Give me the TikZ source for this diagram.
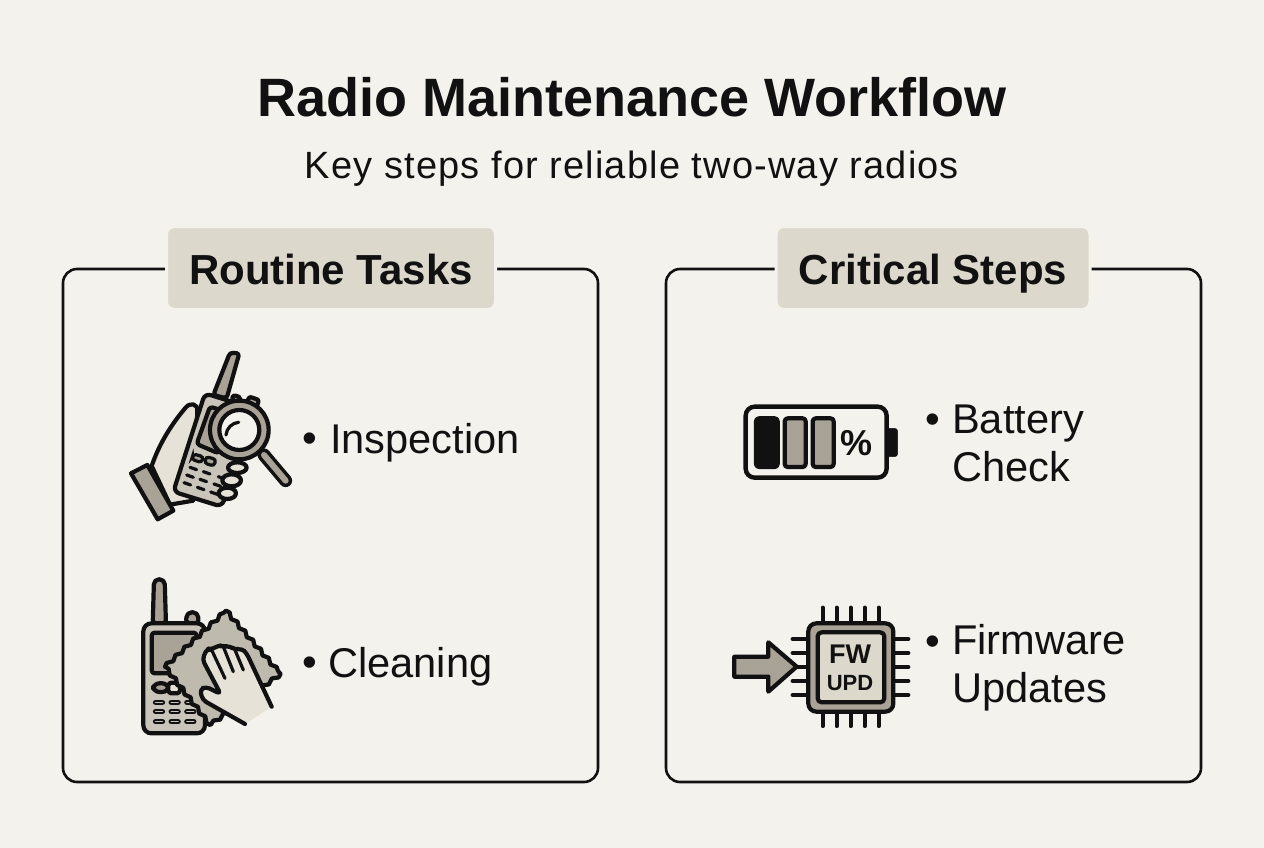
\documentclass[tikz,border=0pt]{standalone}
\usepackage{fontspec}
\usepackage{xcolor}
\setmainfont{Liberation Sans}
\usetikzlibrary{decorations.pathmorphing}
\definecolor{paper}{HTML}{F3F2EC}
\definecolor{ink}{HTML}{111111}
\definecolor{chipfill}{HTML}{DDD8CC}
\definecolor{midgray}{HTML}{A8A297}
\definecolor{lightgray}{HTML}{C9C5BA}
\definecolor{clothgray}{HTML}{BEBAAE}
\definecolor{skin}{HTML}{E6E2D8}
\tikzset{
  panel/.style={draw=ink,line width=2.6pt,rounded corners=14pt},
  tag/.style={fill=chipfill,draw=paper,line width=3pt,rounded corners=8pt,text=ink,
    font=\fontsize{42}{50}\selectfont\bfseries,minimum height=83pt,anchor=center,
    text height=36pt,text depth=4pt},
  itemtext/.style={text=ink,align=left,anchor=west,inner sep=0pt,
    font=\fontsize{41.6}{48}\selectfont},
  bullet/.style={text=ink,inner sep=0pt,font=\fontsize{42}{48}\selectfont},
  outline/.style={draw=ink,line width=4.2pt,line join=round,line cap=round},
  thin/.style={draw=ink,line width=3.2pt,line cap=round},
  cloth/.style={decorate,decoration={snake,amplitude=1.6pt,segment length=12pt}},
  icon/.style={x=0.3333pt,y=-0.3333pt}
}
\begin{document}
\begin{tikzpicture}[x=1pt,y=-1pt]
  \useasboundingbox (0,0) rectangle (1264,848);
  \fill[paper] (0,0) rectangle (1264,848);

  % Title
  \node[text=ink,font=\fontsize{54}{60}\selectfont\bfseries] (title) at (632,97) {Radio Maintenance Workflow};
  \node[text=ink,font=\fontsize{38}{44}\selectfont\addfontfeature{LetterSpace=3}] (subtitle) at (632,169) {Key steps for reliable two-way radios};

  % Panels
  \draw[panel] (63,269) rectangle (598,782);
  \draw[panel] (666,269) rectangle (1201,782);
  \node[tag,minimum width=329pt] (routine) at (331,268) {Routine Tasks};
  \node[tag,minimum width=314pt] (critical) at (933,268) {Critical Steps};

  % Labels
  \node[itemtext] (inspection) at (330,443) {Inspection};
  \node[bullet] (b1) at (310,443) {•};
  \node[itemtext] (cleaning) at (328,667) {Cleaning};
  \node[bullet] (b2) at (310,667) {•};
  \node[itemtext] (battery) at (952,443) {Battery\\Check};
  \node[bullet] (b3) at (933,424) {•};
  \node[itemtext] (firmware) at (952,668) {Firmware\\Updates};
  \node[bullet] (b4) at (933,646) {•};

  % Radio with magnifier
  \begin{scope}[shift={(120,340)},icon]
    \filldraw[outline,fill=midgray,rounded corners=3pt] (280,165) -- (330,38) -- (358,40) -- (320,175) -- cycle;
    \filldraw[outline,fill=midgray,rounded corners=2pt] (335,180) -- (340,165) -- (362,172) -- (358,190) -- cycle;
    \filldraw[outline,fill=midgray,rounded corners=2pt] (378,195) -- (388,170) -- (417,180) -- (408,208) -- cycle;
    \filldraw[outline,fill=skin] (95,378) .. controls (115,320) and (145,265) .. (195,205)
      .. controls (210,185) and (235,190) .. (232,215) -- (220,482) -- (150,494) -- cycle;
    \filldraw[outline,fill=lightgray,rounded corners=6pt] (255,160) -- (415,210) -- (305,500) -- (160,455) -- cycle;
    \filldraw[outline,fill=midgray,rounded corners=3pt] (270,200) -- (350,225) -- (295,340) -- (230,312) -- cycle;
    \filldraw[thin,fill=midgray,rounded corners=3pt] (220,342) -- (250,350) -- (245,368) -- (215,358) -- cycle;
    \filldraw[thin,fill=midgray,rounded corners=3pt] (258,350) -- (288,358) -- (282,378) -- (254,370) -- cycle;
    \foreach \x/\y in {210/382,250/395,295/410,200/405,240/418,282/432,192/428,232/442,272/456} {
      \draw[thin] (\x,\y) -- +(20,7);
    }
    % magnifier
    \draw[ink,line width=13pt,line cap=round] (432,345) -- (497,422);
    \draw[midgray,line width=6pt,line cap=round] (432,345) -- (497,422);
    \filldraw[outline,fill=midgray] (358,270) circle (88);
    \filldraw[outline,fill=paper] (358,270) circle (60);
    \draw[thin] (318,285) arc (185:265:42);
    % fingers
    \filldraw[outline,fill=skin] (352,383) ellipse (28 and 16);
    \filldraw[outline,fill=skin] (335,421) ellipse (28 and 18);
    \filldraw[outline,fill=skin] (322,460) ellipse (26 and 17);
    \filldraw[outline,fill=midgray] (33,400) -- (82,375) -- (160,512) -- (113,538) -- cycle;
  \end{scope}

  % Radio with cloth
  \begin{scope}[shift={(130,570)},icon]
    \filldraw[outline,fill=midgray,rounded corners=5pt] (68,165) -- (72,28) -- (104,28) -- (108,165) -- cycle;
    \filldraw[outline,fill=midgray,rounded corners=5pt] (168,165) -- (170,127) -- (204,127) -- (206,165) -- cycle;
    \filldraw[outline,fill=lightgray,rounded corners=8pt] (40,160) rectangle (225,490);
    \filldraw[outline,fill=midgray,rounded corners=3pt] (65,188) rectangle (200,310);
    \filldraw[outline,fill=midgray,rounded corners=6pt] (70,340) rectangle (115,366);
    \filldraw[outline,fill=skin,rounded corners=3pt] (115,338) rectangle (150,370);
    \foreach \y in {397,425,455} {
      \foreach \x in {77,124,171} {
        \draw[ink,line width=5.6pt,line cap=round] (\x,\y) -- +(20,0);
        \draw[lightgray,line width=1.6pt,line cap=round] (\x,\y) -- +(20,0);
      }
    }
    \path[outline,fill=clothgray] decorate[cloth] {(105,290) -- (288,122)} decorate[cloth] {-- (452,312)}
      decorate[cloth] {-- (240,465)} decorate[cloth] {-- (105,290)};
    % hand, open towards the wrist
    \fill[skin,rounded corners=4pt] (345,462) -- (218,390) -- (210,358) -- (228,350) -- (272,372) -- (217,268)
      -- (232,235) -- (245,240) -- (265,225) -- (280,230) -- (300,228) -- (315,240) -- (335,235) -- (350,250)
      -- (425,410) -- cycle;
    \draw[outline,rounded corners=4pt] (345,462) -- (218,390) -- (210,358) -- (228,350) -- (272,372) -- (217,268)
      -- (232,235) -- (245,240) -- (265,225) -- (280,230) -- (300,228) -- (315,240) -- (335,235) -- (350,250)
      -- (425,410);
    \draw[thin] (245,240) -- (285,325);
    \draw[thin] (280,230) -- (310,305);
    \draw[thin] (315,240) -- (340,300);
  \end{scope}

  % Battery
  \begin{scope}[shift={(735,395)},icon]
    \filldraw[ink,rounded corners=3pt] (450,100) -- (488,100) -- (488,185) -- (450,185) -- cycle;
    \filldraw[draw=ink,fill=paper,line width=4.4pt,rounded corners=9pt] (32,35) rectangle (455,248);
    \filldraw[outline,fill=ink,rounded corners=3pt] (63,70) rectangle (128,216);
    \filldraw[outline,fill=midgray,rounded corners=3pt] (149,70) rectangle (212,216);
    \filldraw[outline,fill=midgray,rounded corners=3pt] (233,70) rectangle (296,216);
    \node[text=ink,font=\fontsize{36}{40}\selectfont\bfseries] (percent) at (365,144) {\%};
  \end{scope}

  % Firmware chip
  \begin{scope}[shift={(725,595)},icon]
    \foreach \x in {293,335,377,419,461} {
      \draw[outline] (\x,38) -- (\x,393);
    }
    \foreach \y in {132,174,216,258,300} {
      \draw[outline] (203,\y) -- (550,\y);
    }
    \filldraw[outline,fill=midgray,rounded corners=8pt] (250,85) rectangle (505,350);
    \filldraw[outline,fill=chipfill,rounded corners=4pt] (278,112) rectangle (478,322);
    \node[text=ink,font=\fontsize{27}{30}\selectfont\bfseries] (fw) at (375,178) {FW};
    \node[text=ink,font=\fontsize{22}{26}\selectfont\bfseries] (upd) at (375,265) {UPD};
    \filldraw[outline,fill=midgray] (28,185) -- (130,185) -- (130,142) -- (215,215) -- (130,290) -- (130,245) -- (28,245) -- cycle;
  \end{scope}
\end{tikzpicture}
\end{document}
